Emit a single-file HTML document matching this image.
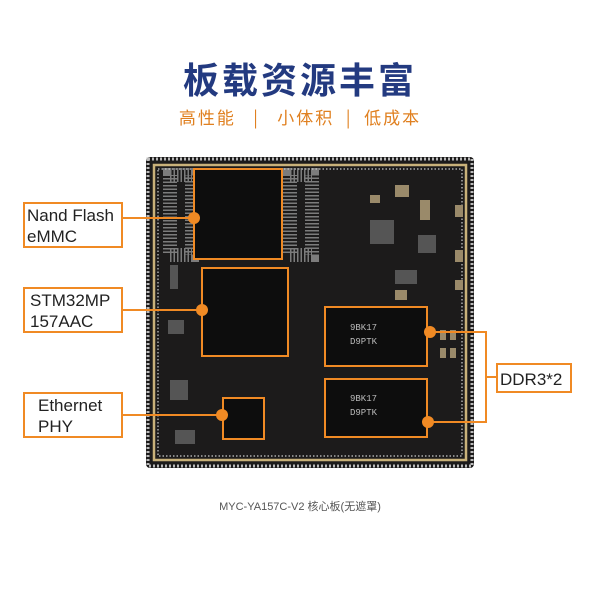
<!DOCTYPE html>
<html><head><meta charset="utf-8"><style>
body{margin:0;width:600px;height:600px;background:#fff;overflow:hidden;position:relative;font-family:"Liberation Sans","Noto Sans CJK SC",sans-serif}
.t{position:absolute;left:0;width:600px;text-align:center}
</style></head><body>
<div class="t" style="top:52px;font-size:36px;font-weight:bold;color:#233a80;letter-spacing:3px;font-family:'Noto Sans CJK SC',sans-serif">板载资源丰富</div>
<div class="t" style="top:104px;font-size:17px;color:#e08020;letter-spacing:2px;font-family:'Noto Sans CJK SC',sans-serif">高性能&nbsp;&nbsp;&nbsp;|&nbsp;&nbsp;&nbsp;小体积&nbsp;&nbsp;|&nbsp;&nbsp;低成本</div>
<svg width="600" height="600" style="position:absolute;left:0;top:0">
<rect x="146" y="157" width="328" height="311" fill="#1c1b1b" rx="4"/>
<rect x="148" y="159" width="324" height="307" fill="none" stroke="#bbb" stroke-width="3" stroke-dasharray="2 2"/>
<rect x="154" y="165" width="312" height="295" fill="none" stroke="#c9b27a" stroke-width="2.5"/>
<rect x="158" y="169" width="304" height="287" fill="none" stroke="#888" stroke-width="2" stroke-dasharray="1.5 2"/>
<rect x="170" y="175" width="22" height="80" fill="none" stroke="#ccc" stroke-width="14" stroke-dasharray="1.5 2" opacity=".55"/>
<rect x="290" y="175" width="22" height="80" fill="none" stroke="#ccc" stroke-width="14" stroke-dasharray="1.5 2" opacity=".55"/>
<g fill="#0d0d0d"><rect x="194" y="169" width="88" height="90"/><rect x="202" y="268" width="86" height="88"/><rect x="325" y="307" width="102" height="59"/><rect x="325" y="379" width="102" height="58"/><rect x="223" y="398" width="41" height="41"/></g>
<g fill="#9a8a6a"><rect x="370" y="195" width="10" height="8"/><rect x="395" y="185" width="14" height="12"/><rect x="420" y="200" width="10" height="20"/><rect x="455" y="205" width="8" height="12"/><rect x="455" y="250" width="8" height="12"/><rect x="395" y="290" width="12" height="10"/><rect x="455" y="280" width="8" height="10"/><rect x="440" y="330" width="6" height="10"/><rect x="450" y="330" width="6" height="10"/><rect x="440" y="348" width="6" height="10"/><rect x="450" y="348" width="6" height="10"/></g>
<g fill="#555"><rect x="370" y="220" width="24" height="24"/><rect x="418" y="235" width="18" height="18"/><rect x="395" y="270" width="22" height="14"/><rect x="170" y="380" width="18" height="20"/><rect x="175" y="430" width="20" height="14"/><rect x="168" y="320" width="16" height="14"/><rect x="170" y="265" width="8" height="24"/></g>
<g fill="#bbb" font-size="9" font-family="Liberation Mono,monospace"><text x="350" y="330">9BK17</text><text x="350" y="344">D9PTK</text><text x="350" y="401">9BK17</text><text x="350" y="415">D9PTK</text></g>
<g fill="none" stroke="#f08a24" stroke-width="2">
<rect x="194" y="169" width="88" height="90"/><rect x="202" y="268" width="86" height="88"/><rect x="325" y="307" width="102" height="59"/><rect x="325" y="379" width="102" height="58"/><rect x="223" y="398" width="41" height="41"/>
<line x1="122" y1="218" x2="194" y2="218"/><line x1="122" y1="310" x2="202" y2="310"/><line x1="122" y1="415" x2="223" y2="415"/>
<polyline points="430,332 486,332 486,422 428,422"/><line x1="486" y1="377" x2="497" y2="377"/>
<rect x="24" y="203" width="98" height="44" fill="#fff"/><rect x="24" y="288" width="98" height="44" fill="#fff"/><rect x="24" y="393" width="98" height="44" fill="#fff"/><rect x="497" y="364" width="74" height="28" fill="#fff"/>
</g>
<g fill="#f08a24"><circle cx="194" cy="218" r="6"/><circle cx="202" cy="310" r="6"/><circle cx="222" cy="415" r="6"/><circle cx="430" cy="332" r="6"/><circle cx="428" cy="422" r="6"/></g>
<g fill="#222" font-size="17" font-family="Liberation Sans,sans-serif">
<text x="27" y="221">Nand Flash</text><text x="27" y="242">eMMC</text>
<text x="30" y="306">STM32MP</text><text x="30" y="327">157AAC</text>
<text x="38" y="411">Ethernet</text><text x="38" y="432">PHY</text>
<text x="500" y="385">DDR3*2</text></g>
<text x="300" y="510" text-anchor="middle" font-size="11" fill="#555" font-family="Liberation Sans,'Noto Sans CJK SC',sans-serif">MYC-YA157C-V2 核心板(无遮罩)</text>
</svg>
</body></html>
